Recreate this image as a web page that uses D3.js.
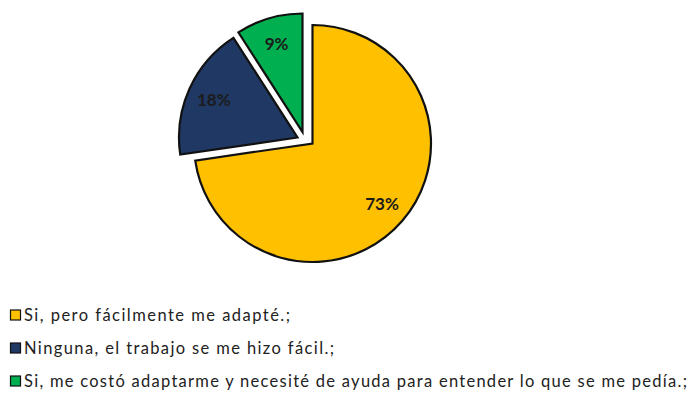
<!DOCTYPE html>
<html>
<head>
<meta charset="utf-8">
<script src="https://cdn.jsdelivr.net/npm/d3@7"></script>
<style>
  html, body { margin: 0; padding: 0; background: #ffffff; }
  svg { display: block; }
</style>
</head>
<body>
<svg id="chart" width="693" height="394"></svg>
<script>
// Answers and their shares (percent)
const categories = [
  "Si, pero fácilmente me adapté.;",
  "Ninguna, el trabajo se me hizo fácil.;",
  "Si, me costó adaptarme y necesité de ayuda para entender lo que se me pedía.;"
];
const values = [72.7, 18.2, 9.1];
const valueLabels = ["73%", "18%", "9%"];
const colors = ["#FFC000", "#203864", "#00B050"];

// Layout / style settings
const pieCenter = { x: 312.5, y: 143.5 };
const radius = 118.5;
const labelRadius = 92;
// pull-out offset of each slice from the pie centre
const explode = [[0, 0], [-15, -6], [-10, -11.5]];
const legendX = 10, legendY0 = 315, legendStep = 33, swatch = 10;
const legendTextWidths = [266, 310, 663];

const svg = d3.select("#chart");

const pie = d3.pie().sort(null).value(d => d)
  .startAngle(0).endAngle(2 * Math.PI);
const arcs = pie(values);

const arc = d3.arc().innerRadius(0).outerRadius(radius);
const labelArc = d3.arc().innerRadius(labelRadius).outerRadius(labelRadius);

const slices = svg.append("g")
  .attr("transform", `translate(${pieCenter.x},${pieCenter.y})`);

const sliceG = slices.selectAll("g.slice")
  .data(arcs)
  .enter().append("g")
  .attr("class", "slice")
  .attr("transform", (d, i) => `translate(${explode[i][0]},${explode[i][1]})`);

sliceG.append("path")
  .attr("d", arc)
  .attr("fill", (d, i) => colors[i])
  .attr("stroke", "#111111")
  .attr("stroke-width", 2.2)
  .attr("stroke-linejoin", "miter");

sliceG.append("text")
  .attr("transform", d => {
    const c = labelArc.centroid(d);
    return `translate(${c[0]},${c[1]})`;
  })
  .attr("text-anchor", "middle")
  .attr("dominant-baseline", "central")
  .attr("font-family", "Lato, 'Open Sans', sans-serif")
  .attr("font-weight", "bold")
  .attr("font-size", 17)
  .attr("fill", "#1b1b1b")
  .text((d, i) => valueLabels[i]);

// Legend
const legend = svg.append("g");
const items = legend.selectAll("g.item")
  .data(categories)
  .enter().append("g")
  .attr("class", "item")
  .attr("transform", (d, i) => `translate(${legendX},${legendY0 + i * legendStep})`);

items.append("rect")
  .attr("x", 0.5)
  .attr("y", -swatch / 2)
  .attr("width", swatch)
  .attr("height", swatch)
  .attr("fill", (d, i) => colors[i])
  .attr("stroke", "#111111")
  .attr("stroke-width", 1.2);

items.append("text")
  .attr("x", 14)
  .attr("y", 0)
  .attr("dominant-baseline", "central")
  .attr("font-family", "Lato, 'Open Sans', sans-serif")
  .attr("font-size", 16.5)
  .attr("fill", "#222222")
  .attr("textLength", (d, i) => legendTextWidths[i])
  .attr("lengthAdjust", "spacing")
  .text(d => d);
</script>
</body>
</html>
